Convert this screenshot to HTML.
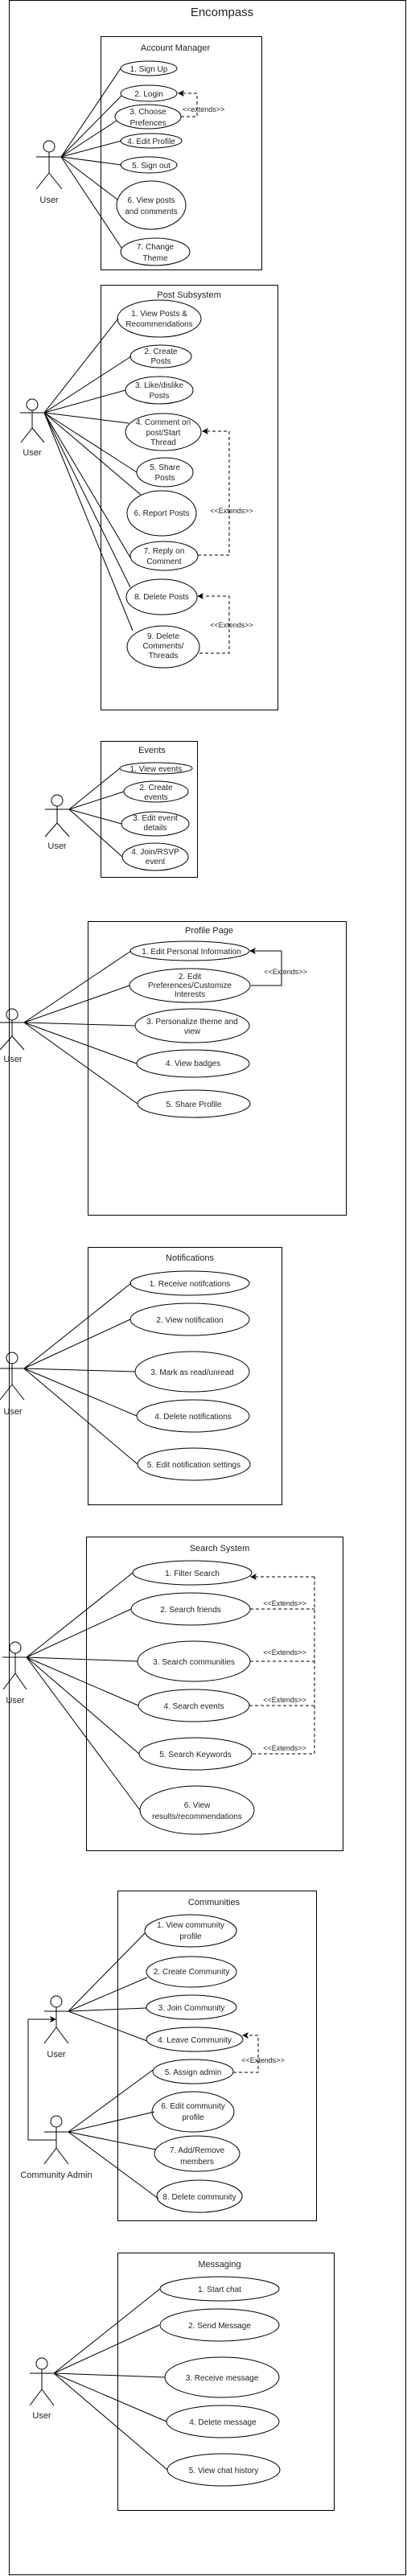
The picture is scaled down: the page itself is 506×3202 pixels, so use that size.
<!DOCTYPE html>
<html><head><meta charset="utf-8"><style>
html,body{margin:0;padding:0;background:#fff}
svg{display:block}
text{font-family:"Liberation Sans",Arial,sans-serif;fill:#222}
.t{font-size:10px;text-anchor:middle}
.h{font-size:11px;text-anchor:middle}
.x{font-size:9px;text-anchor:middle}
</style></head><body>
<svg width="506" height="3202" viewBox="0 0 506 3202" xmlns="http://www.w3.org/2000/svg">
<defs>
<marker id="a" markerWidth="8" markerHeight="8" refX="7" refY="4" orient="auto" markerUnits="userSpaceOnUse"><path d="M0,0 L8,4 L0,8 L2,4 Z" fill="#000"/></marker>
</defs>
<g fill="none" stroke="#000" stroke-width="1">
<rect x="11.5" y="0.5" width="493" height="3200"/>
<!-- Account Manager -->
<rect x="125.5" y="45.5" width="200" height="290"/>
<circle cx="61" cy="182" r="7"/><line x1="61" y1="189" x2="61" y2="215"/><line x1="45" y1="195" x2="77" y2="195"/><line x1="61" y1="215" x2="45" y2="235"/><line x1="61" y1="215" x2="77" y2="235"/>
<ellipse cx="185" cy="85" rx="35" ry="9"/>
<ellipse cx="185" cy="116" rx="35" ry="10"/>
<ellipse cx="184" cy="145" rx="41" ry="15"/>
<ellipse cx="188" cy="175" rx="38" ry="9"/>
<ellipse cx="185" cy="205" rx="35" ry="10"/>
<ellipse cx="188" cy="255" rx="43" ry="30"/>
<ellipse cx="193" cy="313" rx="43" ry="17"/>
<path d="M76,195 L150,85 M76,195 L151,119 M76,195 L145,150 M76,195 L151,175 M76,195 L151,205 M76,195 L146,248 M76,195 L151,308"/>
<path d="M225,145 L245,145 L245,116 L222,116" stroke-dasharray="4,3" marker-end="url(#a)"/>
<!-- Post Subsystem -->
<rect x="125.5" y="354.5" width="220" height="528"/>
<circle cx="40" cy="503" r="7"/><line x1="40" y1="510" x2="40" y2="532"/><line x1="25" y1="513" x2="55" y2="513"/><line x1="40" y1="532" x2="26" y2="550"/><line x1="40" y1="532" x2="55" y2="550"/>
<ellipse cx="198" cy="396" rx="52" ry="23"/>
<ellipse cx="200" cy="443" rx="38" ry="14"/>
<ellipse cx="198" cy="485" rx="42" ry="17"/>
<ellipse cx="203" cy="537" rx="47" ry="23"/>
<ellipse cx="205" cy="587" rx="35" ry="18"/>
<ellipse cx="201" cy="638" rx="43" ry="28"/>
<ellipse cx="204" cy="691" rx="42" ry="18"/>
<ellipse cx="201" cy="742" rx="44" ry="22"/>
<ellipse cx="203" cy="804" rx="45" ry="26"/>
<path d="M55,513 L147,396 M55,513 L163,443 M55,513 L156,485 M55,513 L160,526 M55,513 L170,587 M55,513 L175,615 M55,513 L162,693 M55,513 L162,730 M55,513 L165,784"/>
<path d="M246,690 L285,690 L285,536 L252,536" stroke-dasharray="4,3" marker-end="url(#a)"/>
<path d="M248,812 L285,812 L285,741 L246,741" stroke-dasharray="4,3" marker-end="url(#a)"/>
<!-- Events -->
<rect x="125.5" y="921.5" width="120" height="169"/>
<circle cx="71" cy="995" r="7"/><line x1="71" y1="1002" x2="71" y2="1023"/><line x1="56" y1="1006" x2="86" y2="1006"/><line x1="71" y1="1023" x2="56" y2="1040"/><line x1="71" y1="1023" x2="86" y2="1040"/>
<ellipse cx="194" cy="955" rx="45" ry="7"/>
<ellipse cx="194" cy="984" rx="40" ry="13"/>
<ellipse cx="193" cy="1024" rx="42" ry="15"/>
<ellipse cx="193" cy="1065" rx="41" ry="17"/>
<path d="M86,1006 L149,955 M86,1006 L154,984 M86,1006 L151,1024 M86,1006 L152,1065"/>
<!-- Profile Page -->
<rect x="109.5" y="1145.5" width="321" height="365"/>
<circle cx="15" cy="1261" r="7"/><line x1="15" y1="1268" x2="15" y2="1288"/><line x1="0" y1="1271" x2="30" y2="1271"/><line x1="15" y1="1288" x2="0" y2="1305"/><line x1="15" y1="1288" x2="30" y2="1305"/>
<ellipse cx="236" cy="1182" rx="74" ry="12"/>
<ellipse cx="236" cy="1225" rx="75" ry="21"/>
<ellipse cx="239" cy="1275" rx="71" ry="21"/>
<ellipse cx="240" cy="1322" rx="70" ry="17"/>
<ellipse cx="241" cy="1372" rx="70" ry="17"/>
<path d="M30,1271 L163,1182 M30,1271 L161,1225 M30,1271 L168,1275 M30,1271 L170,1322 M30,1271 L171,1372"/>
<path d="M312,1225 L350,1225 L350,1182 L311,1182" marker-end="url(#a)"/>
<!-- Notifications -->
<rect x="109.5" y="1550.5" width="241" height="320"/>
<circle cx="15" cy="1688" r="7"/><line x1="15" y1="1695" x2="15" y2="1721"/><line x1="0" y1="1701" x2="30" y2="1701"/><line x1="15" y1="1721" x2="0" y2="1740"/><line x1="15" y1="1721" x2="30" y2="1740"/>
<ellipse cx="236" cy="1595" rx="74" ry="15"/>
<ellipse cx="236" cy="1640" rx="74" ry="20"/>
<ellipse cx="239" cy="1705" rx="71" ry="25"/>
<ellipse cx="240" cy="1760" rx="70" ry="20"/>
<ellipse cx="241" cy="1820" rx="70" ry="20"/>
<path d="M30,1701 L163,1595 M30,1701 L162,1640 M30,1701 L168,1705 M30,1701 L170,1760 M30,1701 L171,1820"/>
<!-- Search -->
<rect x="107.5" y="1910.5" width="319" height="390"/>
<circle cx="19" cy="2048" r="7"/><line x1="19" y1="2055" x2="19" y2="2080"/><line x1="3" y1="2060" x2="33" y2="2060"/><line x1="19" y1="2080" x2="4" y2="2100"/><line x1="19" y1="2080" x2="33" y2="2100"/>
<ellipse cx="239" cy="1955" rx="74" ry="15"/>
<ellipse cx="237" cy="2000" rx="74" ry="20"/>
<ellipse cx="241" cy="2065" rx="70" ry="25"/>
<ellipse cx="241" cy="2120" rx="69" ry="20"/>
<ellipse cx="243" cy="2180" rx="70" ry="20"/>
<ellipse cx="245" cy="2250" rx="71" ry="30"/>
<path d="M33,2060 L165,1955 M33,2060 L163,2000 M33,2060 L171,2065 M33,2060 L172,2120 M33,2060 L173,2180 M33,2060 L174,2250"/>
<g stroke-dasharray="4,3"><path d="M311,2000 L391,2000 M311,2065 L391,2065 M310,2120 L391,2120 M314,2180 L391,2180 L391,1960"/><path d="M391,1960 L312,1960" marker-end="url(#a)"/></g>
<!-- Communities -->
<rect x="146.5" y="2350.5" width="247" height="410"/>
<circle cx="70" cy="2488" r="7"/><line x1="70" y1="2495" x2="70" y2="2520"/><line x1="55" y1="2500" x2="85" y2="2500"/><line x1="70" y1="2520" x2="55" y2="2540"/><line x1="70" y1="2520" x2="85" y2="2540"/>
<circle cx="70" cy="2637" r="7"/><line x1="70" y1="2644" x2="70" y2="2670"/><line x1="55" y1="2650" x2="85" y2="2650"/><line x1="70" y1="2670" x2="55" y2="2690"/><line x1="70" y1="2670" x2="85" y2="2690"/>
<path d="M70,2660 L35,2660 L35,2510 L69,2510" marker-end="url(#a)"/>
<ellipse cx="237" cy="2400" rx="57" ry="20"/>
<ellipse cx="238" cy="2451" rx="56" ry="19"/>
<ellipse cx="238" cy="2495" rx="56" ry="15"/>
<ellipse cx="242" cy="2535" rx="60" ry="15"/>
<ellipse cx="240" cy="2575" rx="50" ry="15"/>
<ellipse cx="240" cy="2625" rx="51" ry="25"/>
<ellipse cx="245" cy="2677" rx="53" ry="22"/>
<ellipse cx="248" cy="2730" rx="53" ry="20"/>
<path d="M85,2500 L180,2403 M85,2500 L183,2458 M85,2500 L182,2496 M85,2500 L183,2537 M85,2650 L190,2573 M85,2650 L192,2625 M85,2650 L194,2672 M85,2650 L197,2733"/>
<path d="M290,2576 L321,2576 L321,2530 L302,2530" stroke-dasharray="4,3" marker-end="url(#a)"/>
<!-- Messaging -->
<rect x="146.5" y="2800.5" width="269" height="320"/>
<circle cx="52" cy="2938" r="7"/><line x1="52" y1="2945" x2="52" y2="2970"/><line x1="37" y1="2950" x2="67" y2="2950"/><line x1="52" y1="2970" x2="37" y2="2990"/><line x1="52" y1="2970" x2="67" y2="2990"/>
<ellipse cx="273" cy="2845" rx="74" ry="15"/>
<ellipse cx="273" cy="2890" rx="74" ry="20"/>
<ellipse cx="276" cy="2955" rx="71" ry="25"/>
<ellipse cx="277" cy="3010" rx="70" ry="20"/>
<ellipse cx="278" cy="3070" rx="70" ry="20"/>
<path d="M67,2950 L199,2845 M67,2950 L198,2890 M67,2950 L205,2955 M67,2950 L207,3010 M67,2950 L208,3070"/>
</g>

<text x="276" y="20" style="font-size:15px;text-anchor:middle">Encompass</text>

<text class="h" x="218" y="63">Account Manager</text>
<text class="h" x="61" y="252">User</text>
<text class="t" x="185" y="89">1. Sign Up</text>
<text class="t" x="185" y="120">2. Login</text>
<text class="t" x="184" y="142">3. Choose</text><text class="t" x="184" y="156">Prefences</text>
<text class="t" x="188" y="179">4. Edit Profile</text>
<text class="t" x="188" y="209">5. Sign out</text>
<text class="t" x="188" y="252">6. View posts</text><text class="t" x="188" y="266">and  comments</text>
<text class="t" x="193" y="310">7. Change</text><text class="t" x="193" y="324">Theme</text>
<text class="x" x="253" y="139">&lt;&lt;extends&gt;&gt;</text>

<text class="h" x="235" y="370">Post Subsystem</text>
<text class="h" x="40" y="566">User</text>
<text class="t" x="198" y="393">1. View Posts &amp;</text><text class="t" x="198" y="406">Recommendations</text>
<text class="t" x="200" y="440">2. Create</text><text class="t" x="200" y="452">Posts</text>
<text class="t" x="198" y="482">3. Like/dislike</text><text class="t" x="198" y="495">Posts</text>
<text class="t" x="203" y="528">4. Comment on</text><text class="t" x="203" y="541">post/Start</text><text class="t" x="203" y="553">Thread</text>
<text class="t" x="205" y="584">5. Share</text><text class="t" x="205" y="597">Posts</text>
<text class="t" x="201" y="641">6. Report Posts</text>
<text class="t" x="204" y="688">7. Reply on</text><text class="t" x="204" y="701">Comment</text>
<text class="t" x="201" y="745">8. Delete Posts</text>
<text class="t" x="203" y="794">9. Delete</text><text class="t" x="203" y="806">Comments/</text><text class="t" x="203" y="818">Threads</text>
<text class="x" x="288" y="638">&lt;&lt;Extends&gt;&gt;</text>
<text class="x" x="288" y="780">&lt;&lt;Extends&gt;&gt;</text>

<text class="h" x="189" y="936">Events</text>
<text class="h" x="71" y="1055">User</text>
<text class="t" x="194" y="959">1. View events</text>
<text class="t" x="194" y="982">2. Create</text><text class="t" x="194" y="994">events</text>
<text class="t" x="193" y="1020">3. Edit event</text><text class="t" x="193" y="1032">details</text>
<text class="t" x="193" y="1062">4. Join/RSVP</text><text class="t" x="193" y="1074">event</text>

<text class="h" x="260" y="1160">Profile Page</text>
<text class="h" x="16" y="1320">User</text>
<text class="t" x="238" y="1186">1. Edit Personal Information</text>
<text class="t" x="236" y="1217">2. Edit</text><text class="t" x="236" y="1228">Preferences/Customize</text><text class="t" x="236" y="1239">Interests</text>
<text class="t" x="239" y="1273">3. Personalize theme and</text><text class="t" x="239" y="1285">view</text>
<text class="t" x="240" y="1325">4. View badges</text>
<text class="t" x="241" y="1376">5. Share Profile</text>
<text class="x" x="355" y="1211">&lt;&lt;Extends&gt;&gt;</text>

<text class="h" x="236" y="1567">Notifications</text>
<text class="h" x="16" y="1758">User</text>
<text class="t" x="236" y="1599">1. Receive notifcations</text>
<text class="t" x="236" y="1644">2. View notification</text>
<text class="t" x="239" y="1709">3. Mark as read/unread</text>
<text class="t" x="240" y="1764">4. Delete notifications</text>
<text class="t" x="241" y="1824">5. Edit notification settings</text>

<text class="h" x="273" y="1928">Search System</text>
<text class="h" x="19" y="2117">User</text>
<text class="t" x="239" y="1959">1. Filter Search</text>
<text class="t" x="237" y="2004">2. Search friends</text>
<text class="t" x="241" y="2069">3. Search communities</text>
<text class="t" x="241" y="2124">4. Search events</text>
<text class="t" x="243" y="2184">5. Search Keywords</text>
<text class="t" x="245" y="2247">6. View</text><text class="t" x="245" y="2261">results/recommendations</text>
<text class="x" x="354" y="1996">&lt;&lt;Extends&gt;&gt;</text>
<text class="x" x="354" y="2057">&lt;&lt;Extends&gt;&gt;</text>
<text class="x" x="354" y="2116">&lt;&lt;Extends&gt;&gt;</text>
<text class="x" x="354" y="2176">&lt;&lt;Extends&gt;&gt;</text>

<text class="h" x="266" y="2368">Communities</text>
<text class="h" x="70" y="2557">User</text>
<text class="h" x="70" y="2707">Community Admin</text>
<text class="t" x="237" y="2396">1. View community</text><text class="t" x="237" y="2410">profile</text>
<text class="t" x="238" y="2454">2. Create Community</text>
<text class="t" x="238" y="2499">3. Join Community</text>
<text class="t" x="242" y="2539">4. Leave Community</text>
<text class="t" x="240" y="2579">5. Assign admin</text>
<text class="t" x="240" y="2621">6. Edit community</text><text class="t" x="240" y="2635">profile</text>
<text class="t" x="245" y="2676">7. Add/Remove</text><text class="t" x="245" y="2690">members</text>
<text class="t" x="248" y="2734">8. Delete community</text>
<text class="x" x="327" y="2564">&lt;&lt;Extends&gt;&gt;</text>

<text class="h" x="273" y="2818">Messaging</text>
<text class="h" x="52" y="3006">User</text>
<text class="t" x="273" y="2849">1. Start chat</text>
<text class="t" x="273" y="2894">2. Send Message</text>
<text class="t" x="276" y="2959">3. Receive message</text>
<text class="t" x="277" y="3014">4. Delete message</text>
<text class="t" x="278" y="3074">5. View chat history</text>
</svg>
</body></html>
